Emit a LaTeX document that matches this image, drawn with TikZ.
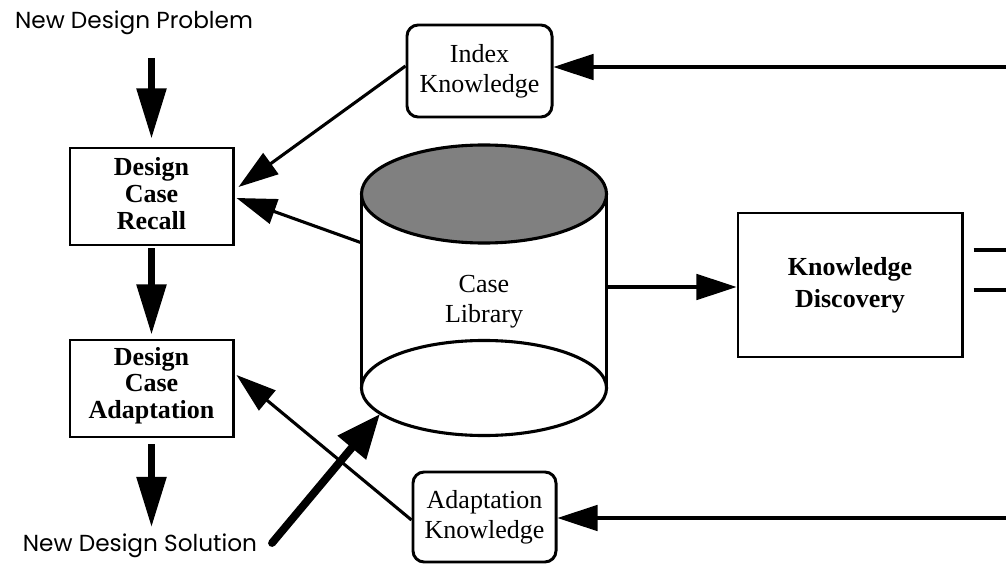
\documentclass[tikz,border=0pt]{standalone}
\usepackage{fontspec}
\setmainfont{Liberation Serif}
\newfontfamily\labelsans{Poppins}
\usetikzlibrary{arrows.meta,calc}

\tikzset{
  x=0.025cm, y=-0.025cm,
  txt/.style={font=\fontsize{18.5}{21.5}\selectfont, align=center},
  boldtxt/.style={font=\fontsize{18.5}{19}\selectfont\bfseries, align=center},
  sqbox/.style={draw, line width=2.1pt, inner sep=0pt, minimum width=#1},
  rbox/.style={draw, line width=2.1pt, rounded corners=0.28cm, inner sep=0pt},
  flowlabel/.style={font=\fontsize{16.5}{18}\selectfont\labelsans},
  thin arrow/.style={line width=2.2pt, -{Triangle[length=1cm, width=0.64cm]}},
  main arrow/.style={line width=4.3pt, -{Triangle[length=1.25cm, width=0.72cm]}},
  feed arrow/.style={line width=5.6pt, line cap=round, -{Triangle[length=1.1cm, width=0.88cm]}},
  plainline/.style={line width=2.2pt},
}

\begin{document}
\begin{tikzpicture}
\useasboundingbox (0,0) rectangle (1006,564);

% process boxes on the left
\node[sqbox=4.075cm, minimum height=2.425cm] (recall) at (151.5,196.5) {};
\node[boldtxt] at ($(recall.center)+(0,-3)$) {Design\\Case\\Recall};
\node[sqbox=4.075cm, minimum height=2.425cm] (adapt) at (151.5,388.5) {};
\node[boldtxt] at ($(adapt.center)+(0,-3)$) {Design\\Case\\Adaptation};

% knowledge sources
\node[rbox, minimum width=3.625cm, minimum height=2.3cm, txt] (index) at (479.5,71) {Index\\Knowledge};
\node[rbox, minimum width=3.575cm, minimum height=2.25cm, txt] (adaptk) at (484.5,517) {Adaptation\\Knowledge};

% discovery
\node[sqbox=5.6cm, minimum height=3.6cm, boldtxt, font=\fontsize{18.5}{22.5}\selectfont\bfseries] (kd) at (850,285) {Knowledge\\Discovery};

% case library cylinder
\draw[plainline] (361.5,194) -- (361.5,388);
\draw[plainline] (606.5,194) -- (606.5,388);
\draw[plainline] (484,388) ellipse [x radius=3.0625cm, y radius=1.1875cm];
\draw[plainline, fill=black!50] (484,194) ellipse [x radius=3.0625cm, y radius=1.225cm];
\node[txt] (lib) at (484,302) {Case\\Library};
\coordinate (cylL) at (362,243);
\coordinate (cylR) at (607,287);
\coordinate (cylB) at (380,414);

% input and output labels
\node[flowlabel] (ndp) at (134,23) {New Design Problem};
\node[flowlabel] (nds) at (140,546) {New Design Solution};

% main flow
\draw[main arrow] ([yshift=-0.45cm]recall.north |- ndp.south) -- ([yshift=0.2cm]recall.north);
\draw[main arrow] ([yshift=-0.05cm]recall.south) -- ([yshift=0.1cm]adapt.north);
\draw[main arrow] ([yshift=-0.15cm]adapt.south) -- (adapt.south |- 0,527);

% knowledge feeding the steps
\draw[thin arrow] ($(index.west)+(0,-5)$) -- ($(recall.east)+(4,-9.5)$);
\draw[thin arrow] (cylL) -- ($(recall.east)+(2,1.5)$);
\draw[thin arrow] ($(adaptk.west)+(0,3)$) -- ($(adapt.east)+(2,-13.5)$);
\draw[feed arrow] ($(nds.east)+(10,-3)$) -- (cylB);

% library to discovery
\draw[thin arrow] (cylR) -- (kd.west |- cylR);

% links at the right edge
\coordinate (inR) at (1006,67);
\coordinate (adR) at (1006,518);
\coordinate (o1) at (1006,250);
\coordinate (o2) at (1006,290);
\draw[thin arrow] (inR) -- (index.east |- inR);
\draw[thin arrow] (adR) -- (adaptk.east |- adR);
\draw[plainline] ([xshift=0.25cm]kd.east |- o1) -- (o1);
\draw[plainline] ([xshift=0.25cm]kd.east |- o2) -- (o2);
\end{tikzpicture}
\end{document}
